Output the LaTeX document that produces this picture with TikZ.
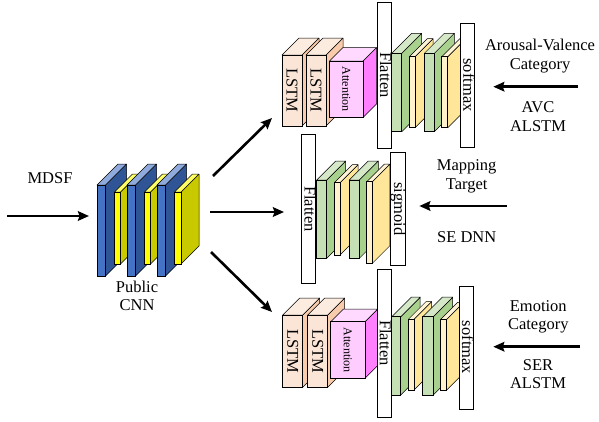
\documentclass[tikz,border=0pt]{standalone}
\usepackage{fontspec}
\setmainfont{Liberation Serif}
\usetikzlibrary{arrows.meta}

\definecolor{cnnfront}{HTML}{4472C4}
\definecolor{cnnside}{HTML}{2F5597}
\definecolor{cnntop}{HTML}{8FAADC}
\definecolor{poolfront}{HTML}{FFFF00}
\definecolor{poolside}{HTML}{C9C900}
\definecolor{pooltop}{HTML}{FFFF66}
\definecolor{lstmfront}{HTML}{FBE5D6}
\definecolor{lstmside}{HTML}{F8CBAD}
\definecolor{lstmtop}{HTML}{FCEBDF}
\definecolor{attfront}{HTML}{FFCCFF}
\definecolor{attside}{HTML}{FF7FFF}
\definecolor{atttop}{HTML}{FFD9FF}
\definecolor{densefront}{HTML}{C5E0B4}
\definecolor{denseside}{HTML}{A9D18E}
\definecolor{densetop}{HTML}{D5E8C8}
\definecolor{dropfront}{HTML}{FFF2CC}
\definecolor{dropside}{HTML}{FFE699}
\definecolor{droptop}{HTML}{FFF5D6}

% cuboid: x, y (front top-left), width, height, depth, front, side, top
\newcommand{\slab}[8]{%
  \filldraw[fill=#7, draw=black, line width=0.5pt, line join=round]
    ({#1+#3},#2) -- ({#1+#3+#5},{#2-#5}) -- ({#1+#3+#5},{#2+#4-#5}) -- ({#1+#3},{#2+#4}) -- cycle;
  \filldraw[fill=#8, draw=black, line width=0.5pt, line join=round]
    (#1,#2) -- ({#1+#5},{#2-#5}) -- ({#1+#3+#5},{#2-#5}) -- ({#1+#3},#2) -- cycle;
  \filldraw[fill=#6, draw=black, line width=0.5pt]
    (#1,#2) rectangle ({#1+#3},{#2+#4});
}

\begin{document}
\begin{tikzpicture}[
    x=1pt, y=-1pt,
    font=\fontsize{16.5}{18.5}\selectfont,
    bigarrow/.style={-{Stealth[length=11pt, width=9.5pt, inset=1.5pt]}, line width=2.6pt},
    bar/.style={draw=black, fill=white, line width=0.6pt, rotate=-90, inner sep=0pt, text height=11pt, text depth=3pt},
    slabtext/.style={rotate=-90, inner sep=0pt},
    atttext/.style={rotate=-90, inner sep=0pt, font=\fontsize{12}{14}\selectfont},
    sidetext/.style={align=center, inner sep=0pt},
]
\useasboundingbox (0,0) rectangle (599,421);

% === Shared CNN ===
\slab{97}{185}{8.5}{91}{21}{cnnfront}{cnnside}{cnntop}
\slab{114.5}{192}{6}{72}{18}{poolfront}{poolside}{pooltop}
\slab{127}{185}{8.5}{91}{21}{cnnfront}{cnnside}{cnntop}
\slab{144.5}{192}{6}{72}{18}{poolfront}{poolside}{pooltop}
\slab{157}{185}{8.5}{91}{21}{cnnfront}{cnnside}{cnntop}
\slab{174.5}{192}{6.5}{72}{18}{poolfront}{poolside}{pooltop}

\node[sidetext] (mdsf) at (50,178) {MDSF};
\node[sidetext] (cnnname) at (137,296) {Public\\CNN};

% === Top branch (AVC ALSTM) ===
\slab{282}{55}{20}{71}{17}{lstmfront}{lstmside}{lstmtop}
\slab{306}{55}{20}{71}{17}{lstmfront}{lstmside}{lstmtop}
\slab{329.5}{61}{33.5}{56.5}{13.5}{attfront}{attside}{atttop}
\node[slabtext] (lstmA1) at (292,90.5) {LSTM};
\node[slabtext] (lstmA2) at (316,90.5) {LSTM};
\node[atttext] (attA) at (346.2,89.2) {Attention};
\node[bar, minimum width=146pt, minimum height=14pt] (flatA) at (384,75) {Flatten};
\slab{391.7}{53.3}{10}{78.4}{20}{densefront}{denseside}{densetop}
\slab{409.3}{56.7}{5.7}{71}{18}{dropfront}{dropside}{droptop}
\slab{424.3}{53.3}{10}{78.4}{20}{densefront}{denseside}{densetop}
\slab{441.7}{56.7}{6}{71}{18}{dropfront}{dropside}{droptop}
\node[bar, minimum width=124pt, minimum height=14pt] (softA) at (467.3,85) {softmax};

% === Middle branch (SE DNN) ===
\node[bar, minimum width=149pt, minimum height=14pt] (flatB) at (308.5,209) {Flatten};
\slab{316.7}{180}{10}{78.3}{19}{densefront}{denseside}{densetop}
\slab{334.3}{182.7}{5.7}{72.3}{18}{dropfront}{dropside}{droptop}
\slab{349.3}{180}{10}{78.3}{19}{densefront}{denseside}{densetop}
\slab{366.7}{181.7}{5.6}{81.6}{17.5}{dropfront}{dropside}{droptop}
\node[bar, minimum width=113pt, minimum height=15pt] (sigB) at (398.2,209) {sigmoid};

% === Bottom branch (SER ALSTM) ===
\slab{282.7}{315}{20}{72.3}{17}{lstmfront}{lstmside}{lstmtop}
\slab{307.7}{315}{20}{72.3}{17}{lstmfront}{lstmside}{lstmtop}
\slab{330.7}{321.7}{34.3}{56.6}{12.5}{attfront}{attside}{atttop}
\node[slabtext] (lstmC1) at (292.7,351) {LSTM};
\node[slabtext] (lstmC2) at (317.7,351) {LSTM};
\node[atttext] (attC) at (347.8,350) {Attention};
\node[bar, minimum width=148pt, minimum height=14pt] (flatC) at (383.8,343) {Flatten};
\slab{391.7}{316.7}{9}{78.3}{19.5}{densefront}{denseside}{densetop}
\slab{408.3}{319.3}{5.7}{70.7}{17.7}{dropfront}{dropside}{droptop}
\slab{422.7}{316.7}{10.5}{78.3}{19.5}{densefront}{denseside}{densetop}
\slab{440.7}{319.3}{6}{70.7}{17}{dropfront}{dropside}{droptop}
\node[bar, minimum width=123pt, minimum height=14pt] (softC) at (466.2,347.5) {softmax};

% === Target labels ===
\node[sidetext] (avcin) at (540,56) {Arousal-Valence\\Category};
\node[sidetext] (avcname) at (538,116.5) {AVC\\ALSTM};
\node[sidetext] (sein) at (466.7,176.5) {Mapping\\Target};
\node[sidetext] (sename) at (466.7,237) {SE DNN};
\node[sidetext] (serin) at (538.3,317) {Emotion\\Category};
\node[sidetext] (sername) at (538,374) {SER\\ALSTM};

% === Arrows ===
\coordinate (mdsfA) at (7,216);
\coordinate (mdsfB) at (89,216);
\coordinate (cnnA) at (213,176);
\coordinate (cnnB) at (210,212);
\coordinate (cnnC) at (211,252);
\coordinate (brA) at (272,118);
\coordinate (brB) at (284,212);
\coordinate (brC) at (272,312);
\coordinate (avcA) at (578,86.7);
\coordinate (avcB) at (493.3,86.7);
\coordinate (seA) at (506.7,206);
\coordinate (seB) at (419.3,206);
\coordinate (serA) at (580,346.7);
\coordinate (serB) at (493.3,346.7);

\draw[bigarrow] (mdsfA) -- (mdsfB);
\draw[bigarrow] (cnnA) -- (brA);
\draw[bigarrow] (cnnB) -- (brB);
\draw[bigarrow] (cnnC) -- (brC);
\draw[bigarrow] (avcA) -- (avcB);
\draw[bigarrow] (seA) -- (seB);
\draw[bigarrow] (serA) -- (serB);

\end{tikzpicture}
\end{document}
